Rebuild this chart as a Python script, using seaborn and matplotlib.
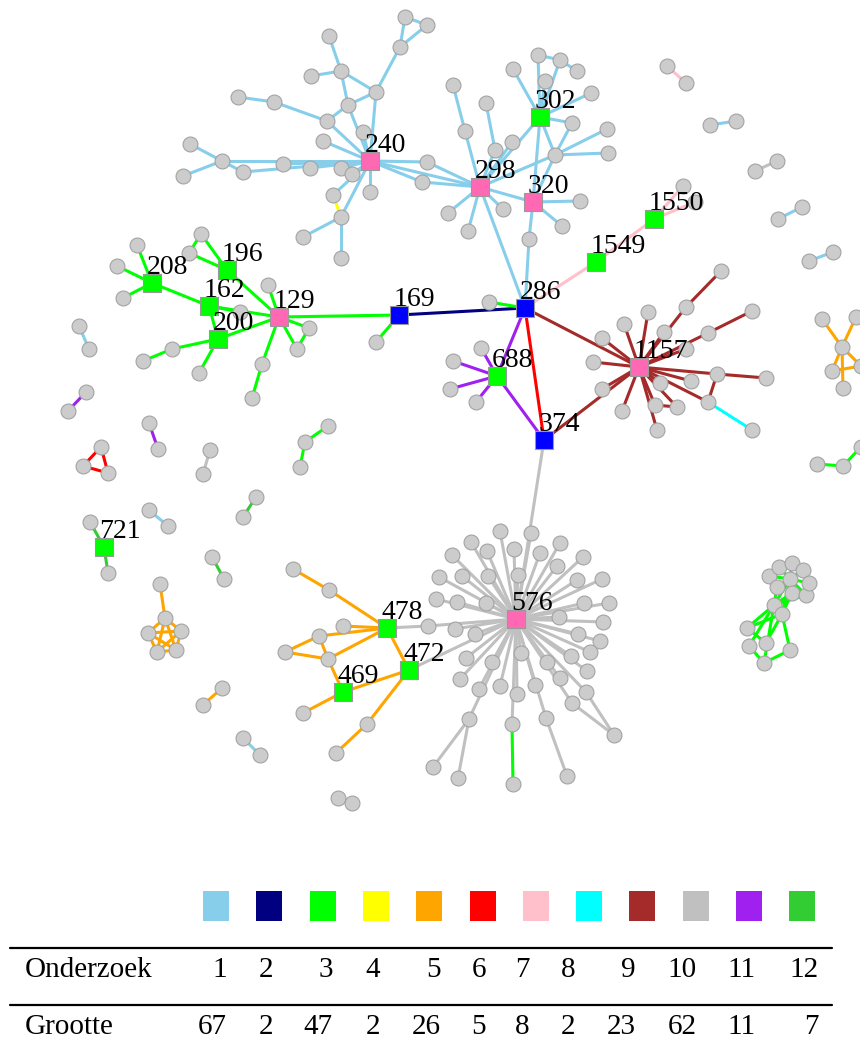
import itertools
import matplotlib
matplotlib.use("Agg")
import matplotlib.pyplot as plt
import seaborn as sns
import pandas as pd
from matplotlib.collections import LineCollection
from matplotlib.patches import Rectangle

# ---- labelled (square) nodes ----
sq_labels = ["240", "298", "320", "302", "129", "208", "196", "162", "200", "169", "286",
             "688", "374", "1157", "1549", "1550", "576", "478", "472", "469", "721"]
sq_x = [370, 480, 533, 540, 279, 152, 227, 209, 218, 399, 525,
        497, 544, 639, 596, 654, 516, 387, 409, 343, 104]
sq_y = [161, 187, 202, 117, 317, 283, 270, 306, 339, 315, 308,
        376, 440, 367, 262, 219, 619, 628, 670, 692, 547]
sq_kind = ["hub", "hub", "hub", "member", "hub", "member", "member", "member", "member", "link", "link",
           "member", "link", "hub", "member", "member", "hub", "member", "member", "member", "member"]

# ---- edges per onderzoek (study) ----
edges_1 = [
    ("240", (363, 132)), ("240", (323, 141)), ("240", (341, 168)), ("240", (352, 174)),
    ("240", (370, 192)), ("240", (333, 195)), ("240", (341, 217)), ("240", (310, 168)),
    ("240", (283, 164)), ("240", (222, 161)), ("240", (243, 172)), ("240", (427, 162)),
    ("240", (422, 182)), ("240", (376, 92)), ("240", (348, 105)), ("240", (327, 121)),
    ("240", "298"),
    ((222, 161), (190, 144)), ((222, 161), (183, 176)), ((222, 161), (243, 172)),
    ((327, 121), (274, 102)), ((274, 102), (238, 97)), ((327, 121), (348, 105)),
    ((348, 105), (376, 92)), ((348, 105), (341, 71)), ((341, 71), (329, 36)),
    ((341, 71), (311, 76)), ((341, 71), (376, 92)), ((376, 92), (400, 47)),
    ((400, 47), (405, 17)), ((400, 47), (427, 25)), ((405, 17), (427, 25)),
    ((341, 217), (303, 237)), ((341, 217), (341, 258)),
    ((427, 162), "298"), ((422, 182), "298"),
    ("298", (465, 131)), ((465, 131), (453, 85)), ("298", (495, 150)), ((495, 150), (486, 103)),
    ("298", (512, 142)), ("298", (448, 213)), ("298", (468, 231)), ("298", (503, 209)),
    ("298", "320"), ("298", "302"), ("298", (555, 155)), ("298", "286"),
    ("302", (513, 69)), ("302", (538, 55)), ("302", (545, 81)), ((538, 55), (560, 60)),
    ((560, 60), (577, 71)), ("302", (560, 60)), ("302", (591, 93)), ("302", (572, 123)),
    ("302", (555, 155)), ("302", "320"),
    ((555, 155), (607, 129)), ((555, 155), (608, 153)), ((555, 155), (572, 123)), ((555, 155), "320"),
    ("320", (580, 201)), ("320", (562, 226)), ("320", (529, 239)), ((529, 239), "286"),
    ((79, 326), (89, 349)), ((149, 510), (168, 526)), ((243, 738), (260, 755)),
    ((710, 125), (736, 121)), ((778, 219), (802, 207)), ((809, 261), (833, 252)),
]
edges_2 = [("169", "286")]
green_flower = [(769, 576), (779, 567), (792, 563), (803, 570), (809, 583), (806, 595), (777, 587), (792, 593)]
edges_3 = [
    ("208", (137, 245)), ("208", (117, 266)), ("208", (123, 298)), ("208", "162"),
    ("196", (201, 234)), ("196", (189, 253)), ((189, 253), (201, 234)), ("196", "129"),
    ("162", "129"), ("162", "200"), ("162", (240, 312)),
    ("200", "129"), ("200", (172, 349)), ((172, 349), (143, 361)), ("200", (199, 373)),
    ("129", (268, 285)), ("129", (262, 364)), ((262, 364), (252, 398)),
    ("129", (309, 328)), ("129", (297, 349)), ((309, 328), (297, 349)), ("129", "169"),
    ("169", (376, 342)), ((489, 302), "286"),
    ((328, 426), (305, 442)), ((305, 442), (300, 467)),
    ((512, 724), (513, 784)),
    ((817, 464), (843, 466)), ((843, 466), (861, 447)),
    ((774, 605), (777, 587)), ((774, 605), (790, 579)), ((774, 605), (792, 593)), ((774, 605), (806, 595)),
    ((782, 614), (792, 593)), ((782, 614), (790, 579)),
    ((774, 605), (747, 628)), ((774, 605), (749, 646)), ((774, 605), (764, 663)),
    ((782, 614), (747, 628)), ((782, 614), (766, 643)), ((782, 614), (790, 650)),
    ((764, 663), (790, 650)), ((747, 628), (766, 643)), ((749, 646), (764, 663)),
] + [((790, 579), p) for p in green_flower]
edges_4 = [((333, 195), (341, 217))]
pentagon = [(165, 618), (148, 633), (181, 631), (157, 652), (176, 650)]
edges_5 = [
    ((293, 569), (329, 590)), ((329, 590), "478"), ("478", (343, 626)), ("478", (319, 636)),
    ("478", (328, 659)), ((319, 636), (285, 652)), ((285, 652), (328, 659)), ((319, 636), (328, 659)),
    ((328, 659), "469"), ("478", "472"), ("472", "469"), ("472", (367, 724)),
    ((367, 724), (336, 753)), ("469", (303, 713)),
    ((160, 584), (165, 618)), ((222, 688), (203, 705)),
    ((842, 347), (822, 319)), ((842, 347), (856, 317)), ((842, 347), (861, 366)),
    ((842, 347), (843, 388)), ((832, 371), (861, 366)), ((842, 347), (832, 371)),
] + list(itertools.combinations(pentagon, 2))
edges_6 = [("286", "374"), ((101, 447), (83, 466)), ((83, 466), (108, 473)), ((101, 447), (108, 473))]
edges_7 = [("286", "1549"), ("1549", "1550"), ("1550", (683, 186)), ("1550", (695, 202)),
           ((667, 66), (686, 83))]
edges_8 = [((708, 402), (752, 430))]
leaves_1157 = [(686, 307), (708, 333), (648, 312), (624, 324), (664, 332), (602, 338), (686, 349),
               (593, 362), (717, 374), (660, 383), (691, 381), (602, 389), (708, 402), (655, 405),
               (677, 407), (622, 411), (657, 430)]
edges_9 = [("1157", "286"), ("1157", "374"), ((686, 307), (721, 271)), ((708, 333), (752, 311)),
           ((717, 374), (766, 378)), ((717, 374), (708, 402)), ((655, 405), (677, 407))] + \
          [("1157", p) for p in leaves_1157]
leaves_576 = [(500, 531), (531, 533), (471, 542), (560, 543), (452, 555), (487, 551), (514, 549),
              (540, 553), (583, 557), (439, 577), (462, 576), (488, 576), (518, 575), (557, 566),
              (577, 580), (602, 579), (436, 599), (457, 602), (486, 603), (584, 603), (609, 603),
              (559, 617), (603, 622), (455, 629), (475, 634), (578, 634), (600, 641), (466, 658),
              (492, 662), (521, 653), (547, 662), (571, 656), (590, 652), (460, 679), (500, 686),
              (517, 694), (535, 685), (560, 678), (587, 671), (479, 689), (586, 692), (572, 703),
              (469, 719), (512, 724), (546, 718)]
edges_10 = [("374", "576"), ("478", (428, 626)), ((428, 626), "576"), ("472", "576"),
            ((469, 719), (433, 767)), ((469, 719), (458, 778)), ((546, 718), (567, 776)),
            ((586, 692), (614, 735)), ((572, 703), (614, 735)),
            ((755, 171), (777, 161)), ((210, 450), (203, 474)), ((338, 798), (352, 803))] + \
           [("576", p) for p in leaves_576]
edges_11 = [("286", "688"), ("688", "374"), ("688", (481, 348)), ("688", (453, 361)),
            ("688", (450, 389)), ("688", (476, 402)), ((86, 392), (68, 411)), ((149, 423), (158, 449))]
edges_12 = [((256, 497), (243, 517)), ((212, 557), (224, 579)), ("721", (108, 573)), ("721", (90, 522))]

onderzoek = list(range(1, 13))
grootte = [67, 2, 47, 2, 26, 5, 8, 2, 23, 62, 11, 7]
group_colors = ["#87CEEB", "#000080", "#00FF00", "#FFFF00", "#FFA500", "#FF0000",
                "#FFC0CB", "#00FFFF", "#A52A2A", "#C0C0C0", "#A020F0", "#32CD32"]
all_edges = [edges_1, edges_2, edges_3, edges_4, edges_5, edges_6,
             edges_7, edges_8, edges_9, edges_10, edges_11, edges_12]

# ---- build tables ----
sq_pos = dict(zip(sq_labels, zip(sq_x, sq_y)))


def pos(p):
    return sq_pos[p] if isinstance(p, str) else p


segs, seg_cols, gray_nodes = [], [], []
for grp, edges in enumerate(all_edges):
    for a, b in edges:
        segs.append([pos(a), pos(b)])
        seg_cols.append(group_colors[grp])
        for p in (a, b):
            if not isinstance(p, str):
                gray_nodes.append(p)

nodes_df = pd.DataFrame(sorted(set(gray_nodes)), columns=["x", "y"])
sq_df = pd.DataFrame({"label": sq_labels, "x": sq_x, "y": sq_y, "kind": sq_kind})

# ---- figure ----
sns.set_style("white")
fig = plt.figure(figsize=(8.6, 10.56), dpi=100)
ax = fig.add_axes([0, 0, 1, 1])
ax.set_xlim(0, 860)
ax.set_ylim(1056, 0)
ax.axis("off")

ax.add_collection(LineCollection(segs, colors=seg_cols, linewidths=2.2, capstyle="round", zorder=1))

sns.scatterplot(data=nodes_df, x="x", y="y", s=115, color="#CCCCCC", edgecolor="#A3A3A3",
                linewidth=0.8, ax=ax, zorder=3, legend=False)
sns.scatterplot(data=sq_df, x="x", y="y", hue="kind", marker="s", s=180,
                palette={"hub": "#FF69B4", "member": "#00FF00", "link": "#0000FF"},
                edgecolor="#999999", linewidth=0.8, ax=ax, zorder=4, legend=False)

serif = "Liberation Serif"
for lab, x, y in zip(sq_labels, sq_x, sq_y):
    ax.text(x - 5, y - 9, lab, fontsize=20, family=serif, color="black",
            ha="left", va="baseline", zorder=5)

# colour key
for i, c in enumerate(group_colors):
    ax.add_patch(Rectangle((203 + i * 53.3, 891), 26, 30, facecolor=c, edgecolor="none"))

# table
ax.plot([10, 832], [948, 948], color="black", lw=1.6)
ax.plot([10, 832], [1005, 1005], color="black", lw=1.6)
ax.text(25, 970, "Onderzoek", fontsize=21, family=serif, color="black", va="center", ha="left")
ax.text(25, 1027, "Grootte", fontsize=21, family=serif, color="black", va="center", ha="left")
col_right = [227, 273, 333, 380, 441, 486, 530, 575, 636, 697, 756, 819]
for xr, o, g in zip(col_right, onderzoek, grootte):
    ax.text(xr, 970, str(o), fontsize=21, family=serif, color="black", va="center", ha="right")
    ax.text(xr, 1027, str(g), fontsize=21, family=serif, color="black", va="center", ha="right")

fig.savefig("out.png", dpi=100)
